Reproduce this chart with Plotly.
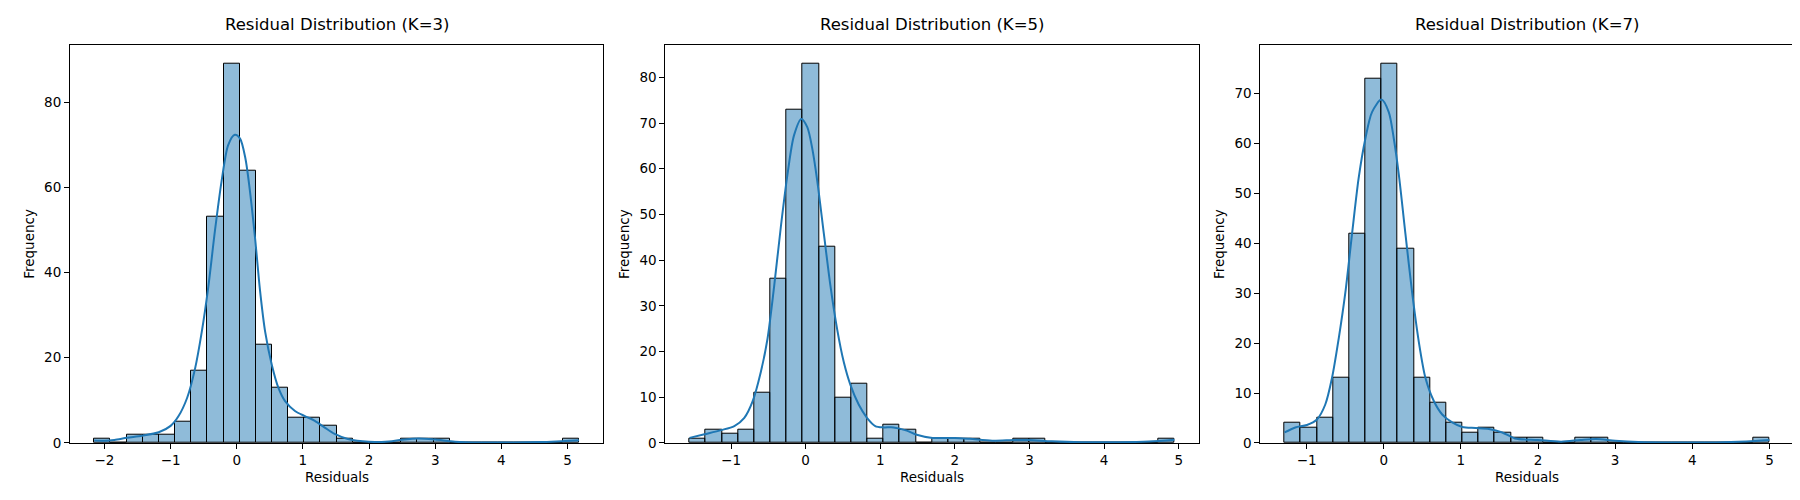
import numpy as np
import plotly.graph_objects as go
from plotly.subplots import make_subplots

# K values shown in the three panels
k_values = [3, 5, 7]

# residual range (min / max) for each K -> 30 equal-width bins
res_min = [-2.155, -1.556, -1.286]
res_max = [5.175, 4.943, 5.0]

# histogram counts per bin (30 bins)
counts_k3 = [1, 0, 2, 2, 2, 5, 17, 53, 89, 64, 23, 13, 6, 6, 4,
             1, 0, 0, 0, 1, 1, 1, 0, 0, 0, 0, 0, 0, 0, 1]
counts_k5 = [1, 3, 2, 3, 11, 36, 73, 83, 43, 10, 13, 1, 4, 3, 0,
             1, 1, 1, 0, 0, 1, 1, 0, 0, 0, 0, 0, 0, 0, 1]
counts_k7 = [4, 3, 5, 13, 42, 73, 76, 39, 13, 8, 4, 2, 3, 2, 1,
             1, 0, 0, 1, 1, 0, 0, 0, 0, 0, 0, 0, 0, 0, 1]

# kde curve (scaled to counts)
kde_x_k3 = [-2.155, -2.0, -1.85, -1.66, -1.43, -1.18, -1.0, -0.88, -0.75, -0.63,
            -0.53, -0.43, -0.33, -0.23, -0.13, -0.03, 0.05, 0.13, 0.2, 0.28,
            0.35, 0.43, 0.53, 0.63, 0.73, 0.88, 1.03, 1.18, 1.33, 1.48,
            1.68, 2.0, 2.3, 2.5, 2.75, 3.0, 3.3, 3.7, 4.2, 4.6, 4.9, 5.175]
kde_y_k3 = [0.6, 0.5, 0.7, 1.2, 1.7, 2.5, 4.0, 6.3, 10.6, 17.5,
            26, 36.7, 49.8, 61.4, 69.9, 72.3, 71.4, 66.8, 59, 47.5,
            36, 26, 18.3, 12.9, 9.8, 7.5, 6.3, 5.2, 3.6, 2.1,
            0.9, 0.25, 0.35, 0.75, 1.05, 0.8, 0.3, 0.1, 0.1, 0.2, 0.4, 0.6]

kde_x_k5 = [-1.556, -1.356, -1.133, -0.956, -0.822, -0.711, -0.6, -0.511, -0.422, -0.333,
            -0.244, -0.156, -0.058, 0.022, 0.089, 0.156, 0.244, 0.333, 0.422, 0.511,
            0.6, 0.711, 0.822, 0.933, 1.044, 1.178, 1.356, 1.489, 1.7, 2.0,
            2.2, 2.5, 2.8, 3.0, 3.3, 3.7, 4.2, 4.6, 4.943]
kde_y_k5 = [1.1, 1.9, 2.8, 3.7, 5.5, 9.1, 15.6, 22.8, 34.3, 47.2,
            58.7, 67.3, 70.9, 69.1, 64.4, 57.3, 45.8, 34.3, 24.9, 17.7,
            12.7, 8.4, 5.5, 3.7, 3.4, 3.4, 2.7, 1.8, 1.1, 1.1,
            0.9, 0.5, 0.65, 0.65, 0.35, 0.15, 0.15, 0.3, 0.7]

kde_x_k7 = [-1.286, -1.147, -0.996, -0.866, -0.758, -0.671, -0.584, -0.498, -0.411, -0.325,
            -0.238, -0.152, -0.03, 0.065, 0.13, 0.195, 0.281, 0.368, 0.455, 0.541,
            0.649, 0.758, 0.887, 1.017, 1.19, 1.364, 1.537, 1.7, 2.0, 2.3,
            2.55, 2.75, 3.0, 3.3, 3.8, 4.3, 4.7, 5.0]
kde_y_k7 = [2.1, 3.1, 3.6, 4.7, 7.7, 13, 20.9, 30.1, 41.9, 53.1,
            61, 66.3, 68.8, 66.3, 61, 53.8, 41.9, 30.1, 20.2, 13,
            8.4, 5.7, 4.1, 3.2, 3.0, 2.8, 2.1, 0.9, 0.6, 0.26,
            0.6, 0.8, 0.45, 0.2, 0.1, 0.1, 0.3, 0.6]

# y tick step per panel
y_dtick = [20, 10, 10]

counts = [counts_k3, counts_k5, counts_k7]
kde_x = [kde_x_k3, kde_x_k5, kde_x_k7]
kde_y = [kde_y_k3, kde_y_k5, kde_y_k7]

W, H = 1800, 500
FONT = "DejaVu Sans"
BAR_FILL = "rgba(31,119,180,0.5)"
LINE = "#1f77b4"

# axes boxes in pixels (left, right), shared top/bottom
boxes = [(62, 595.3), (657.3, 1190.7), (1252.3, 1785.7)]
top_px, bottom_px = 37.3, 442

fig = make_subplots(rows=1, cols=3)
annotations = []

for i, k in enumerate(k_values):
    n = len(counts[i])
    edges = np.linspace(res_min[i], res_max[i], n + 1)
    centers = (edges[:-1] + edges[1:]) / 2
    width = edges[1] - edges[0]

    fig.add_trace(go.Bar(
        x=centers, y=counts[i], width=width,
        marker=dict(color=BAR_FILL, line=dict(color="black", width=1)),
        hoverinfo="skip", showlegend=False,
    ), row=1, col=i + 1)

    fig.add_trace(go.Scatter(
        x=kde_x[i], y=kde_y[i], mode="lines",
        line=dict(color=LINE, width=2, shape="spline", smoothing=0.8),
        hoverinfo="skip", showlegend=False,
    ), row=1, col=i + 1)

    span = res_max[i] - res_min[i]
    xr = [res_min[i] - 0.05 * span, res_max[i] + 0.05 * span]
    yr = [0, max(counts[i]) * 1.05]

    left, right = boxes[i]
    axis_style = dict(
        showline=True, linecolor="black", linewidth=1, mirror=True,
        ticks="outside", ticklen=5, tickwidth=1, tickcolor="black",
        showgrid=False, zeroline=False,
        tickfont=dict(family=FONT, size=13.5, color="black"),
    )
    fig.update_xaxes(range=xr, dtick=1, domain=[left / W, right / W],
                     **axis_style, row=1, col=i + 1)
    fig.update_yaxes(range=yr, dtick=y_dtick[i],
                     domain=[1 - bottom_px / H, 1 - top_px / H],
                     **axis_style, row=1, col=i + 1)

    cx = (left + right) / 2 / W
    annotations.append(dict(
        text=f"Residual Distribution (K={k})", x=cx, y=1 - 28 / H,
        xref="paper", yref="paper", xanchor="center", yanchor="bottom",
        showarrow=False, font=dict(family=FONT, size=16.5, color="black"),
    ))
    annotations.append(dict(
        text="Residuals", x=cx, y=1 - 476.5 / H,
        xref="paper", yref="paper", xanchor="center", yanchor="middle",
        showarrow=False, font=dict(family=FONT, size=13.5, color="black"),
    ))
    annotations.append(dict(
        text="Frequency", x=(left - 41) / W, y=1 - (top_px + bottom_px) / 2 / H,
        xref="paper", yref="paper", xanchor="center", yanchor="middle",
        textangle=-90, showarrow=False,
        font=dict(family=FONT, size=13.5, color="black"),
    ))

fig.update_layout(
    width=W, height=H,
    margin=dict(l=0, r=0, t=0, b=0),
    paper_bgcolor="white", plot_bgcolor="white",
    bargap=0, barmode="overlay",
    annotations=annotations,
    font=dict(family=FONT),
)

fig.write_html("out.html", config={"displayModeBar": False})
